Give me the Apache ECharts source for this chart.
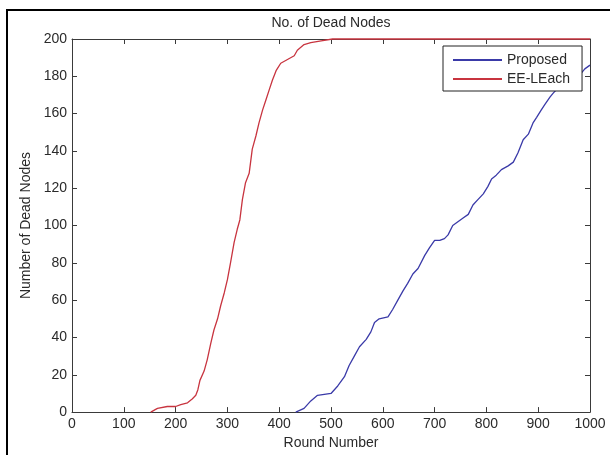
<!DOCTYPE html>
<html>
<head>
<meta charset="utf-8">
<script src="https://cdn.jsdelivr.net/npm/echarts@6/dist/echarts.min.js"></script>
<style>
  html, body { margin: 0; padding: 0; background: #fff; }
  #chart { width: 610px; height: 455px; }
</style>
</head>
<body>
<div id="chart"></div>
<script>
    // EE-LEach (red)
    const redRounds = [152, 165, 184, 200, 210, 223, 232, 239, 243, 247, 255, 261, 268, 274, 281, 287, 294, 300, 306, 313, 319, 324, 329, 335, 342, 348, 355, 361, 368, 374, 381, 387, 394, 403, 416, 429, 435, 448, 461, 481, 503, 1000];
    const redDead = [0, 2, 3, 3, 4, 5, 7, 9, 12, 17, 22, 28, 37, 44, 50, 57, 64, 71, 80, 91, 98, 103, 114, 123, 128, 141, 148, 155, 162, 167, 173, 178, 183, 187, 189, 191, 194, 197, 198, 199, 200, 200];
    // Proposed (blue)
    const blueRounds = [432, 448, 461, 474, 500, 513, 526, 535, 545, 555, 568, 577, 584, 593, 610, 619, 629, 639, 648, 658, 668, 681, 690, 700, 710, 719, 726, 735, 745, 755, 765, 774, 784, 794, 803, 810, 819, 829, 842, 852, 861, 871, 881, 890, 897, 906, 913, 923, 929, 939, 945, 958, 971, 984, 990, 1000];
    const blueDead = [0, 2, 6, 9, 10, 14, 19, 25, 30, 35, 39, 43, 48, 50, 51, 55, 60, 65, 69, 74, 77, 84, 88, 92, 92, 93, 95, 100, 102, 104, 106, 111, 114, 117, 121, 125, 127, 130, 132, 134, 139, 146, 149, 155, 158, 162, 165, 169, 171, 174, 176, 178, 180, 182, 184, 186];
    const seriesNames = ['Proposed', 'EE-LEach'];

    const zip = (xs, ys) => xs.map((x, i) => [x, ys[i]]);
    const font = "'Liberation Sans', Arial, sans-serif";

    const myChart = echarts.init(document.getElementById('chart'));
    const boxAxis = (pos, labels) => ({
        type: 'value',
        position: pos,
        min: 0,
        axisLine: { show: true, onZero: false, lineStyle: { color: '#3a3a3a', width: 1 } },
        axisTick: { show: true, inside: true, length: 5, lineStyle: { color: '#3a3a3a' } },
        splitLine: { show: false },
        axisLabel: { show: labels, color: '#2a2a2a', fontSize: 14, fontFamily: font, formatter: v => String(v) }
    });

    const xBottom = Object.assign(boxAxis('bottom', true), {
        max: 1000, interval: 100,
        name: 'Round Number', nameLocation: 'middle', nameGap: 21,
        nameTextStyle: { color: '#2a2a2a', fontSize: 14, fontFamily: font }
    });
    xBottom.axisLabel.margin = 5;
    const xTop = Object.assign(boxAxis('top', false), { max: 1000, interval: 100 });

    const yLeft = Object.assign(boxAxis('left', true), {
        max: 200, interval: 20,
        name: 'Number of Dead Nodes', nameLocation: 'middle', nameGap: 39,
        nameTextStyle: { color: '#2a2a2a', fontSize: 14, fontFamily: font }
    });
    yLeft.axisLabel.margin = 5;
    const yRight = Object.assign(boxAxis('right', false), { max: 200, interval: 20 });

    const option = {
        animation: false,
        title: {
            text: 'No. of Dead Nodes',
            left: 331, top: 16, padding: 0,
            textAlign: 'center',
            textStyle: { color: '#2a2a2a', fontSize: 14, fontWeight: 'normal', fontFamily: font }
        },
        graphic: [{
            type: 'rect',
            shape: { x: 7, y: 10, width: 620, height: 470 },
            style: { fill: 'none', stroke: '#000', lineWidth: 2 },
            z: 100
        }],
        legend: {
            data: seriesNames,
            orient: 'vertical',
            left: 443, top: 46,
            align: 'left',
            padding: [7, 12, 5, 9],
            itemGap: 5,
            itemWidth: 49, itemHeight: 14,
            itemStyle: { opacity: 0 },
            backgroundColor: '#fff',
            borderColor: '#222', borderWidth: 1, borderRadius: 0,
            textStyle: { color: '#2a2a2a', fontSize: 14, fontFamily: font }
        },
        grid: { left: 72, right: 20, top: 39, bottom: 42, containLabel: false },
        xAxis: [xBottom, xTop],
        yAxis: [yLeft, yRight],
        series: [
            {
                name: 'Proposed', type: 'line', xAxisIndex: 0, yAxisIndex: 0,
                symbol: 'none', clip: false,
                lineStyle: { color: '#3a3aa8', width: 1.3 },
                itemStyle: { color: '#3a3aa8' },
                data: zip(blueRounds, blueDead)
            },
            {
                name: 'EE-LEach', type: 'line', xAxisIndex: 0, yAxisIndex: 0,
                symbol: 'none', clip: false,
                lineStyle: { color: '#c8343f', width: 1.3 },
                itemStyle: { color: '#c8343f' },
                data: zip(redRounds, redDead)
            }
        ]
    };
    option && myChart.setOption(option);
</script>
</body>
</html>
